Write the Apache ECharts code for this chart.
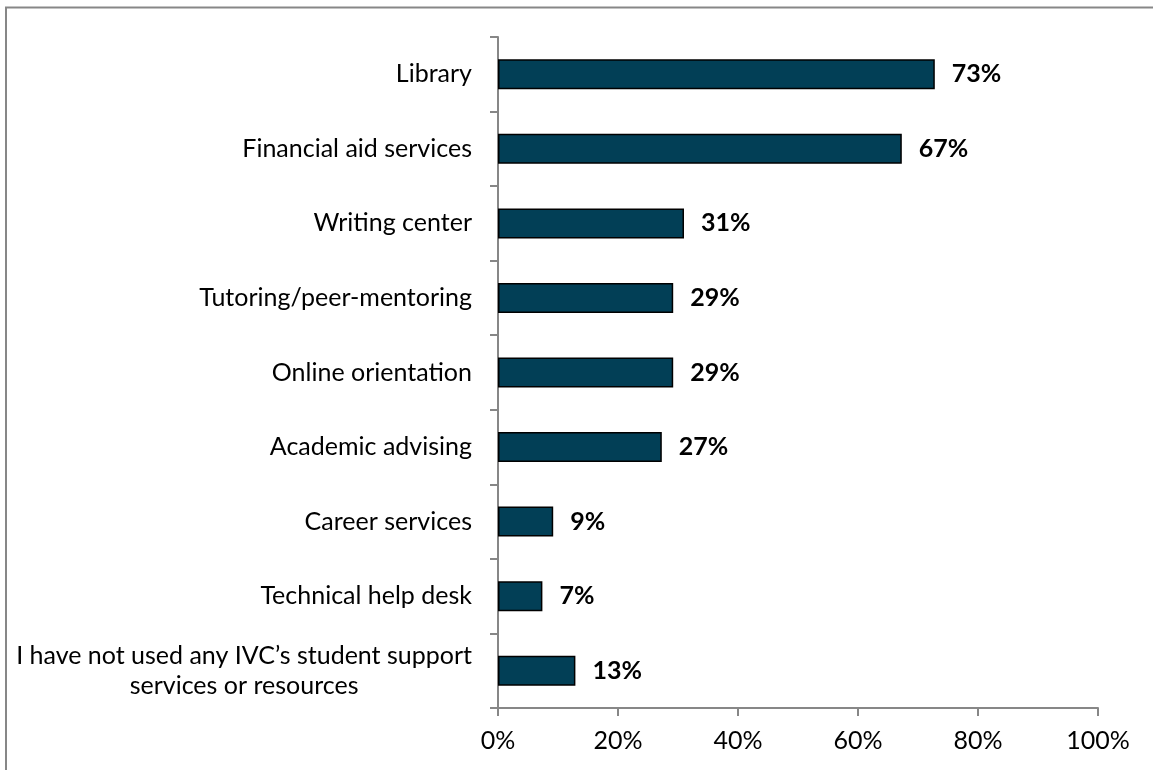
<!DOCTYPE html>
<html>
<head>
<meta charset="utf-8">
<script src="https://cdn.jsdelivr.net/npm/echarts@6/dist/echarts.min.js"></script>
<style>
    html, body { margin: 0; padding: 0; background: #fff; }
    #chart { width: 1153px; height: 770px; }
</style>
</head>
<body>
<div id="chart"></div>
<script>
// categories top to bottom
const categories = [
    "Library",
    "Financial aid services",
    "Writing center",
    "Tutoring/peer-mentoring",
    "Online orientation",
    "Academic advising",
    "Career services",
    "Technical help desk",
    "I have not used any IVC\u2019s student support\nservices or resources"
];
const percents = [72.8, 67.3, 31.0, 29.2, 29.2, 27.3, 9.2, 7.4, 12.9];
const xTicks = [0, 20, 40, 60, 80, 100];

const fontFamily = "Lato";
const chart = echarts.init(document.getElementById("chart"));

const option = {
    backgroundColor: "#fff",
    animation: false,
    textStyle: { fontFamily: fontFamily },
    graphic: [{
        type: "rect",
        shape: { x: 6, y: 7.5, width: 1300, height: 900 },
        style: { fill: "none", stroke: "#878787", lineWidth: 2 },
        silent: true
    }],
    grid: { left: 498, right: 55, top: 37, bottom: 62 },
    xAxis: {
        type: "value",
        min: xTicks[0],
        max: xTicks[xTicks.length - 1],
        interval: xTicks[1] - xTicks[0],
        axisLine: { show: true, lineStyle: { color: "#878787", width: 2 } },
        axisTick: { show: true, length: 8, lineStyle: { color: "#878787", width: 2 } },
        splitLine: { show: false },
        axisLabel: {
            formatter: "{value}%",
            color: "#000",
            fontSize: 25,
            margin: 20,
            fontFamily: fontFamily
        }
    },
    yAxis: {
        type: "category",
        inverse: true,
        data: categories,
        axisLine: { show: true, lineStyle: { color: "#878787", width: 2 } },
        axisTick: { show: true, length: 8, lineStyle: { color: "#878787", width: 2 } },
        axisLabel: {
            color: "#000",
            fontSize: 25,
            margin: 26,
            fontFamily: fontFamily,
            formatter: function (v) {
                return v.split("\n").map(function (s) { return "{c|" + s + "}"; }).join("\n");
            },
            rich: {
                c: { align: "center", fontSize: 25, lineHeight: 30, color: "#000", fontFamily: fontFamily }
            }
        }
    },
    series: [{
        type: "bar",
        data: percents,
        barWidth: 30,
        itemStyle: { color: "#023f56", borderColor: "#000", borderWidth: 1.5 },
        label: {
            show: true,
            position: "right",
            distance: 17,
            color: "#000",
            fontWeight: "bold",
            fontSize: 25,
            fontFamily: fontFamily,
            formatter: function (p) { return Math.round(p.value) + "%"; }
        }
    }]
};

chart.setOption(option);
</script>
</body>
</html>
